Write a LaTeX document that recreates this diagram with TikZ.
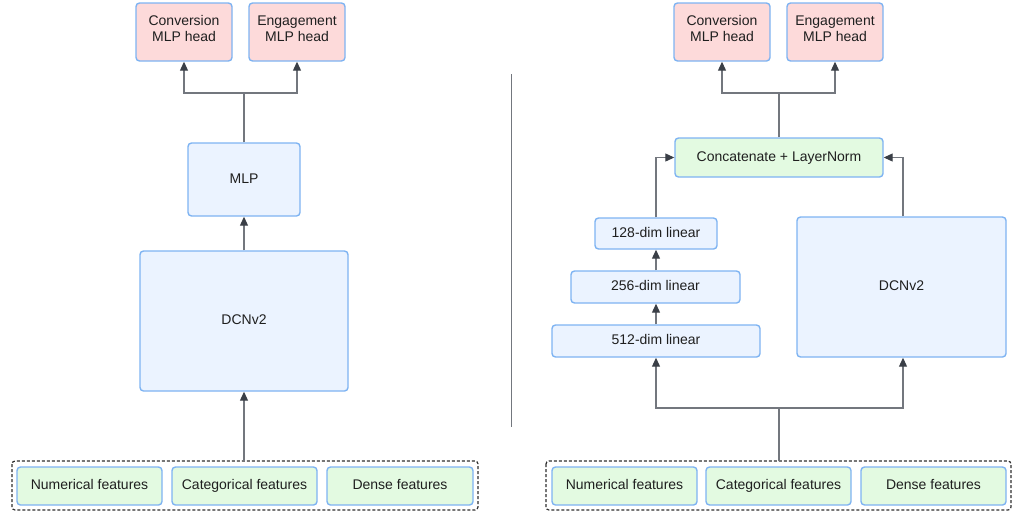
\documentclass[tikz,border=0pt]{standalone}
\usepackage{fontspec}
\setmainfont{Liberation Sans}
\usetikzlibrary{arrows.meta}
\definecolor{bordblue}{HTML}{7EB3F2}
\definecolor{fillblue}{HTML}{EBF3FF}
\definecolor{fillpink}{HTML}{FDDADA}
\definecolor{fillgreen}{HTML}{E3FAE1}
\definecolor{linegray}{HTML}{73777E}
\definecolor{tipdark}{HTML}{3A3F47}
\tikzset{
  box/.style={draw=bordblue, line width=1.4pt, rounded corners=3.5pt, inner sep=0pt, align=center, font=\fontsize{14}{16.5}\selectfont, text=black!88},
  oneline/.style={text height=10pt, text depth=3pt},
  twoline/.style={text height=26.5pt, text depth=7pt},
  bluebox/.style={box, fill=fillblue},
  pinkbox/.style={box, fill=fillpink},
  greenbox/.style={box, fill=fillgreen},
  conn/.style={draw=linegray, line width=1.1pt},
  arr/.style={conn, -{Triangle[length=9pt,width=8pt,fill=tipdark,color=tipdark]}},
  dashbox/.style={draw=black!82, dash pattern=on 3pt off 2pt, line width=1.2pt, rounded corners=3pt},
}
\newcommand{\mkbox}[6]{% style, name, x1,y1,x2,y2, text via \boxtext
  \node[#1, minimum width={(#5-#3)*1pt}, minimum height={(#6-#4)*1pt}] (#2) at ({(#3+#5)/2}, {(#4+#6)/2}) {\boxtext};}
\begin{document}
\begin{tikzpicture}[x=1pt,y=-1pt]
\useasboundingbox (0,0) rectangle (1024,515);
% ---------- left ----------
\def\boxtext{Conversion\\MLP head}\mkbox{pinkbox,twoline}{lch}{136}{3}{232}{61}
\def\boxtext{Engagement\\MLP head}\mkbox{pinkbox,twoline}{leh}{249}{3}{345}{61}
\def\boxtext{MLP}\mkbox{bluebox,oneline}{lmlp}{188}{143}{300}{216}
\def\boxtext{DCNv2}\mkbox{bluebox,oneline}{ldcn}{140}{251}{348}{391}
\draw[dashbox] (12,461) rectangle (478,510);
\coordinate (lin) at (244,461);
\def\boxtext{Numerical features}\mkbox{greenbox,oneline}{lnum}{17}{467}{162}{505}
\def\boxtext{Categorical features}\mkbox{greenbox,oneline}{lcat}{172}{467}{317}{505}
\def\boxtext{Dense features}\mkbox{greenbox,oneline}{lden}{327}{467}{473}{505}
\coordinate (lsplit) at (244,93);
\draw[conn] (lmlp.north) -- (lsplit);
\draw[arr] (lsplit) -| (lch.south);
\draw[arr] (lsplit) -| (leh.south);
\draw[arr] (ldcn.north) -- (lmlp.south);
\draw[arr] (lin) -- (ldcn.south);
% divider
\draw[draw=linegray, line width=0.9pt] (511,74) -- (511,427);
% ---------- right ----------
\def\boxtext{Conversion\\MLP head}\mkbox{pinkbox,twoline}{rch}{674}{3}{770}{61}
\def\boxtext{Engagement\\MLP head}\mkbox{pinkbox,twoline}{reh}{787}{3}{883}{61}
\def\boxtext{Concatenate + LayerNorm}\mkbox{greenbox,oneline}{rcat}{675}{138}{883}{177}
\def\boxtext{128-dim linear}\mkbox{bluebox,oneline}{r128}{595}{218}{717}{249}
\def\boxtext{256-dim linear}\mkbox{bluebox,oneline}{r256}{571}{271}{740}{303}
\def\boxtext{512-dim linear}\mkbox{bluebox,oneline}{r512}{552}{325}{760}{357}
\def\boxtext{DCNv2}\mkbox{bluebox,oneline}{rdcn}{797}{217}{1006}{357}
\draw[dashbox] (546,461) rectangle (1011,510);
\coordinate (rin) at (779,461);
\def\boxtext{Numerical features}\mkbox{greenbox,oneline}{rnum}{552}{467}{697}{505}
\def\boxtext{Categorical features}\mkbox{greenbox,oneline}{rcatf}{706}{467}{851}{505}
\def\boxtext{Dense features}\mkbox{greenbox,oneline}{rden}{861}{467}{1006}{505}
\coordinate (rsplit) at (779,93);
\draw[conn] (rcat.north) -- (rsplit);
\draw[arr] (rsplit) -| (rch.south);
\draw[arr] (rsplit) -| (reh.south);
\draw[arr] (r128.north -| 656,0) |- (rcat.west);
\draw[arr] (rdcn.north -| 903,0) |- (rcat.east);
\draw[arr] (r256.north -| 656,0) -- (r128.south -| 656,0);
\draw[arr] (r512.north -| 656,0) -- (r256.south -| 656,0);
\coordinate (rbot) at (779,408);
\draw[conn] (rin) -- (rbot);
\draw[arr] (rbot) -| (r512.south -| 656,0);
\draw[arr] (rbot) -| (rdcn.south -| 903,0);
\end{tikzpicture}
\end{document}
